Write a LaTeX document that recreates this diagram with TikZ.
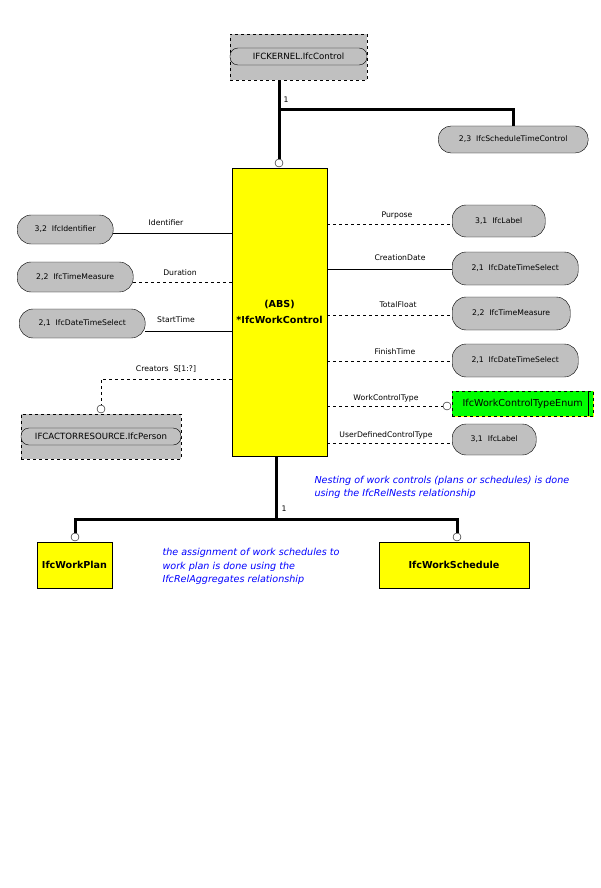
\documentclass[tikz,border=0pt]{standalone}
\usepackage{fontspec}
\setmainfont{DejaVu Sans}
\definecolor{ifcgrey}{RGB}{192,192,192}
\definecolor{ifcyellow}{RGB}{255,255,0}
\definecolor{ifcgreen}{RGB}{0,255,0}
\definecolor{ifcblue}{RGB}{0,0,255}
\begin{document}
\begin{tikzpicture}[x=1pt,y=-1pt,
    every node/.style={font=\fontsize{7.7}{9}\selectfont},
    pill/.style={draw,fill=ifcgrey,rounded corners=14pt,inner sep=0pt,anchor=west},
    cls/.style={draw,fill=ifcyellow,inner sep=0pt,align=center,font=\fontsize{9.6}{16}\selectfont\bfseries},
    ext/.style={draw,dashed,fill=ifcgrey,inner sep=0pt},
    extin/.style={draw,fill=ifcgrey,rounded corners=8pt,inner sep=0pt,font=\fontsize{8.6}{10}\selectfont},
    enumbox/.style={draw=black,dashed,fill=ifcgreen,preaction={draw=ifcyellow,solid},inner sep=0pt,anchor=west,font=\fontsize{9.6}{11}\selectfont},
    ring/.style={circle,draw,fill=white,inner sep=0pt,minimum size=8pt},
    lbl/.style={inner sep=1pt},
    rel/.style={thin},
    opt/.style={thin,dashed},
    super/.style={line width=3pt},
    note/.style={text=ifcblue,align=left,anchor=west,font=\fontsize{9.6}{13.5}\selectfont\itshape}]
    \useasboundingbox[fill=white] (0,0) rectangle (600,888);

    % supertype and sibling
    \node[ext,minimum width=137,minimum height=46] (kern) at (298.5,57) {};
    \node[extin,minimum width=137,minimum height=17] (kernin) at (298.5,56.5) {IFCKERNEL.IfcControl};
    \node[pill,minimum width=150,minimum height=27,rounded corners=13pt] (stc) at (438,139.5) {2,3~~IfcScheduleTimeControl};

    % the entity
    \node[cls,minimum width=95,minimum height=288] (main) at (279.5,312) {(ABS)\\*IfcWorkControl};

    \node[ring] (rtop) at (279,163) {};
    \draw[super] (kern.south -| rtop) -- (rtop.north);
    \coordinate (fork) at (279,110);
    \draw[super] (fork) -| (stc.north);
    \node[lbl] (one1) at (286,100) {1};

    % left attributes
    \node[pill,minimum width=96,minimum height=29] (idf) at (17,229.5) {3,2~~IfcIdentifier};
    \node[pill,minimum width=116,minimum height=30] (dur) at (17,277) {2,2~~IfcTimeMeasure};
    \node[pill,minimum width=126,minimum height=29] (stt) at (19,323.5) {2,1~~IfcDateTimeSelect};
    \draw[rel] (idf.east |- 0,233) -- (main.west |- 0,233);
    \draw[opt] (dur.east |- 0,282) -- (main.west |- 0,282);
    \draw[rel] (stt.east |- 0,331) -- (main.west |- 0,331);
    \node[lbl] (lidf) at (166,223) {Identifier};
    \node[lbl] (ldur) at (180,273) {Duration};
    \node[lbl] (lstt) at (176,320) {StartTime};

    \node[ext,minimum width=160,minimum height=45] (pers) at (101,436.5) {};
    \node[extin,minimum width=160,minimum height=17] (persin) at (101,436.5) {IFCACTORRESOURCE.IfcPerson};
    \node[ring] (rpers) at (101,409) {};
    \draw[opt] (main.west |- 0,379) -| (rpers.north);
    \node[lbl] (lcre) at (166,369) {Creators~~S[1:?]};

    % right attributes
    \node[pill,minimum width=93,minimum height=32] (lab1) at (452,221) {3,1~~IfcLabel};
    \node[pill,minimum width=126,minimum height=33] (dts1) at (452,268.5) {2,1~~IfcDateTimeSelect};
    \node[pill,minimum width=118,minimum height=33] (tme) at (452,313.5) {2,2~~IfcTimeMeasure};
    \node[pill,minimum width=126,minimum height=33] (dts2) at (452,360.5) {2,1~~IfcDateTimeSelect};
    \node[enumbox,minimum width=141,minimum height=25] (wct) at (452,403.5) {IfcWorkControlTypeEnum};
    \node[pill,minimum width=84,minimum height=31] (lab2) at (452,439.5) {3,1~~IfcLabel};
    \draw[thin] ([xshift=-5]wct.north east) -- ([xshift=-5]wct.south east);
    \node[ring] (rwct) at (447,406) {};

    \draw[opt] (main.east |- 0,224) -- (lab1.west |- 0,224);
    \draw[rel] (main.east |- 0,269) -- (dts1.west |- 0,269);
    \draw[opt] (main.east |- 0,315) -- (tme.west |- 0,315);
    \draw[opt] (main.east |- 0,361) -- (dts2.west |- 0,361);
    \draw[opt] (main.east |- rwct) -- (rwct.west);
    \draw[opt] (main.east |- 0,443) -- (lab2.west |- 0,443);
    \node[lbl] (lpur) at (397,215) {Purpose};
    \node[lbl] (lcrd) at (400,258) {CreationDate};
    \node[lbl] (ltfl) at (398,305) {TotalFloat};
    \node[lbl] (lfin) at (395,352) {FinishTime};
    \node[lbl] (lwct) at (386,398) {WorkControlType};
    \node[lbl] (ludc) at (386,435) {UserDefinedControlType};

    % subtypes
    \node[cls,minimum width=75,minimum height=46,font=\fontsize{9.6}{10}\selectfont\bfseries] (plan) at (74.5,565) {IfcWorkPlan};
    \node[cls,minimum width=150,minimum height=46,font=\fontsize{9.6}{10}\selectfont\bfseries] (sched) at (454,565) {IfcWorkSchedule};
    \node[ring] (rplan) at (75,537) {};
    \node[ring] (rsched) at (457,537) {};
    \coordinate (split) at (276,519);
    \draw[super] (split |- main.south) -- (split);
    \draw[super] (rplan.north) |- (split) -| (rsched.north);
    \node[lbl] (one2) at (284,509) {1};

    \node[note] (nest) at (311,487.5) {Nesting of work controls (plans or schedules) is done\\using the IfcRelNests relationship};
    \node[note] (aggr) at (159,566.5) {the assignment of work schedules to\\work plan is done using the\\IfcRelAggregates relationship};
\end{tikzpicture}
\end{document}
